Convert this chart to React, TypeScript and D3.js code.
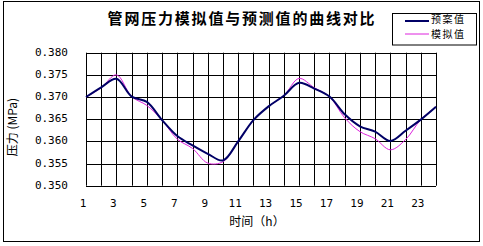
import React from "react";
import * as d3 from "d3";

const hours = d3.range(1, 25);
const planValues = [0.3700, 0.3722, 0.3741, 0.3701, 0.3689, 0.3648, 0.3612, 0.3591, 0.3572, 0.3557, 0.3600, 0.3648, 0.3679, 0.3703, 0.3732, 0.3719, 0.3701, 0.3661, 0.3634, 0.3622, 0.3601, 0.3624, 0.3649, 0.3678];
const simValues = [0.3700, 0.3721, 0.3750, 0.3701, 0.3681, 0.3648, 0.3605, 0.3584, 0.3551, 0.3554, 0.3600, 0.3648, 0.3679, 0.3703, 0.3742, 0.3721, 0.3701, 0.3653, 0.3622, 0.3606, 0.3581, 0.3604, 0.3649, 0.3678];
const yTicks = [0.35, 0.355, 0.36, 0.365, 0.37, 0.375, 0.38];
const xTickLabels = [1, 3, 5, 7, 9, 11, 13, 15, 17, 19, 21, 23];
const title = "管网压力模拟值与预测值的曲线对比";
const seriesNames = ["预案值", "模拟值"];

const W = 483, H = 246;
const plot = { left: 86, right: 436, top: 52.7, bottom: 185.7 };
const navy = "#000066";
const magenta = "#dd22dd";
const mono = "'DejaVu Sans Mono', monospace";
const cjk = "'Noto Sans CJK SC', sans-serif";

export default function App() {
  const x = d3.scaleLinear().domain([1, 24]).range([plot.left, plot.right]);
  const y = d3.scaleLinear().domain([0.35, 0.38]).range([plot.bottom, plot.top]);
  const line = d3
    .line<number>()
    .x((_, i) => x(hours[i]))
    .y((d) => y(d))
    .curve(d3.curveCatmullRom.alpha(0.5));

  return (
    <svg width={W} height={H} style={{ position: "absolute", left: 0, top: 0, background: "#fff" }}>
      <rect x={3.5} y={1.5} width={476} height={240} fill="#fff" stroke="#000" strokeWidth={1} />
      <text x={242} y={20} textAnchor="middle" dominantBaseline="middle" fontFamily={cjk} fontWeight="bold" fontSize={15} letterSpacing={1.8}>
        {title}
      </text>
      {/* grid */}
      {hours.map((h) => (
        <line key={"v" + h} x1={Math.round(x(h)) + 0.5} x2={Math.round(x(h)) + 0.5} y1={plot.top} y2={plot.bottom} stroke="#000" strokeWidth={1} />
      ))}
      {yTicks.map((t) => (
        <line key={"h" + t} x1={plot.left} x2={plot.right} y1={Math.round(y(t)) + 0.5} y2={Math.round(y(t)) + 0.5} stroke="#000" strokeWidth={1} />
      ))}
      {yTicks.map((t) => (
        <text key={"yt" + t} x={68} y={y(t)} textAnchor="end" dominantBaseline="middle" fontFamily={mono} fontSize={11}>
          {t.toFixed(3)}
        </text>
      ))}
      {xTickLabels.map((t) => (
        <text key={"xt" + t} x={x(t) - 3} y={204} textAnchor="middle" dominantBaseline="middle" fontFamily={mono} fontSize={11}>
          {t}
        </text>
      ))}
      <text x={257} y={223} textAnchor="middle" dominantBaseline="middle" fontFamily={cjk} fontSize={12}>
        时间（h）
      </text>
      <text transform="translate(14,127) rotate(-90)" textAnchor="middle" dominantBaseline="middle" fontFamily={cjk} fontSize={12}>
        压力 (MPa)
      </text>
      <path d={line(simValues) || ""} fill="none" stroke={magenta} strokeWidth={1} />
      <path d={line(planValues) || ""} fill="none" stroke={navy} strokeWidth={2} />
      {/* legend */}
      <rect x={392.5} y={13.5} width={84} height={31.5} fill="#fff" stroke="#000" strokeWidth={1} />
      <line x1={405} x2={429} y1={21} y2={21} stroke={navy} strokeWidth={2} />
      <line x1={405} x2={429} y1={34} y2={34} stroke={magenta} strokeWidth={1} />
      <text x={431} y={20.5} dominantBaseline="middle" fontFamily={cjk} fontSize={10} letterSpacing={1.5}>{seriesNames[0]}</text>
      <text x={431} y={35} dominantBaseline="middle" fontFamily={cjk} fontSize={10} letterSpacing={1.5}>{seriesNames[1]}</text>
    </svg>
  );
}
